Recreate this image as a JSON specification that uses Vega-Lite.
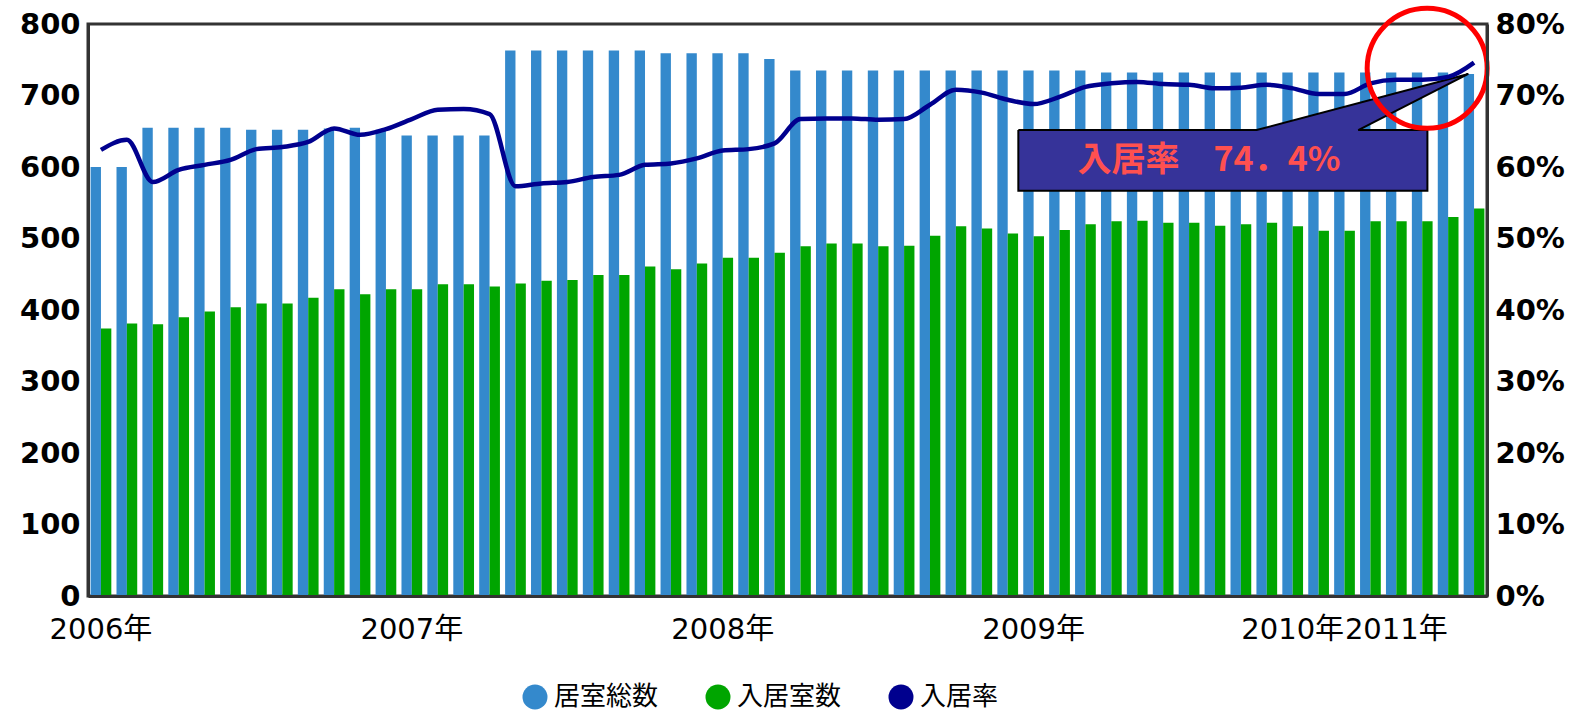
{
  "$schema": "https://vega.github.io/schema/vega-lite/v6.json",
  "width": 1399,
  "height": 572,
  "autosize": {"type": "none"},
  "padding": {"left": 88, "top": 24, "right": 91, "bottom": 118},
  "background": "white",
  "config": {
    "view": {"stroke": "#333333", "strokeWidth": 3},
    "font": "DejaVu Sans"
  },
  "datasets": {
    "monthly": [
      {"n": 0, "居室総数": 600, "入居室数": 374, "入居率": 62.4},
      {"n": 1, "居室総数": 600, "入居室数": 381, "入居率": 63.8},
      {"n": 2, "居室総数": 655, "入居室数": 380, "入居率": 57.9},
      {"n": 3, "居室総数": 655, "入居室数": 390, "入居率": 59.6},
      {"n": 4, "居室総数": 655, "入居室数": 398, "入居率": 60.3},
      {"n": 5, "居室総数": 655, "入居室数": 404, "入居率": 61.0},
      {"n": 6, "居室総数": 652, "入居室数": 409, "入居率": 62.5},
      {"n": 7, "居室総数": 652, "入居室数": 409, "入居率": 62.8},
      {"n": 8, "居室総数": 652, "入居室数": 417, "入居率": 63.5},
      {"n": 9, "居室総数": 654, "入居室数": 429, "入居率": 65.4},
      {"n": 10, "居室総数": 655, "入居室数": 422, "入居率": 64.5},
      {"n": 11, "居室総数": 652, "入居室数": 429, "入居率": 65.3},
      {"n": 12, "居室総数": 644, "入居室数": 429, "入居率": 66.7},
      {"n": 13, "居室総数": 644, "入居室数": 436, "入居率": 68.0},
      {"n": 14, "居室総数": 644, "入居室数": 436, "入居率": 68.1},
      {"n": 15, "居室総数": 644, "入居室数": 433, "入居率": 67.4},
      {"n": 16, "居室総数": 763, "入居室数": 437, "入居率": 57.3},
      {"n": 17, "居室総数": 763, "入居室数": 441, "入居率": 57.7},
      {"n": 18, "居室総数": 763, "入居室数": 442, "入居率": 57.9},
      {"n": 19, "居室総数": 763, "入居室数": 449, "入居率": 58.6},
      {"n": 20, "居室総数": 763, "入居室数": 449, "入居率": 58.9},
      {"n": 21, "居室総数": 763, "入居室数": 461, "入居率": 60.3},
      {"n": 22, "居室総数": 759, "入居室数": 457, "入居率": 60.5},
      {"n": 23, "居室総数": 759, "入居室数": 465, "入居率": 61.2},
      {"n": 24, "居室総数": 759, "入居室数": 473, "入居率": 62.3},
      {"n": 25, "居室総数": 759, "入居室数": 473, "入居率": 62.5},
      {"n": 26, "居室総数": 751, "入居室数": 480, "入居率": 63.3},
      {"n": 27, "居室総数": 735, "入居室数": 489, "入居率": 66.7},
      {"n": 28, "居室総数": 735, "入居室数": 493, "入居率": 66.8},
      {"n": 29, "居室総数": 735, "入居室数": 493, "入居率": 66.8},
      {"n": 30, "居室総数": 735, "入居室数": 489, "入居率": 66.6},
      {"n": 31, "居室総数": 735, "入居室数": 490, "入居率": 66.7},
      {"n": 32, "居室総数": 735, "入居室数": 504, "入居率": 68.7},
      {"n": 33, "居室総数": 735, "入居室数": 517, "入居率": 70.8},
      {"n": 34, "居室総数": 735, "入居室数": 514, "入居率": 70.4},
      {"n": 35, "居室総数": 735, "入居室数": 507, "入居率": 69.4},
      {"n": 36, "居室総数": 735, "入居室数": 503, "入居率": 68.8},
      {"n": 37, "居室総数": 735, "入居室数": 512, "入居率": 69.8},
      {"n": 38, "居室総数": 735, "入居室数": 520, "入居率": 71.2},
      {"n": 39, "居室総数": 732, "入居室数": 524, "入居率": 71.7},
      {"n": 40, "居室総数": 732, "入居室数": 525, "入居率": 71.9},
      {"n": 41, "居室総数": 732, "入居室数": 522, "入居率": 71.6},
      {"n": 42, "居室総数": 732, "入居室数": 522, "入居率": 71.5},
      {"n": 43, "居室総数": 732, "入居室数": 518, "入居率": 71.0},
      {"n": 44, "居室総数": 732, "入居室数": 520, "入居率": 71.1},
      {"n": 45, "居室総数": 732, "入居室数": 522, "入居率": 71.5},
      {"n": 46, "居室総数": 732, "入居室数": 517, "入居率": 71.0},
      {"n": 47, "居室総数": 732, "入居室数": 511, "入居率": 70.2},
      {"n": 48, "居室総数": 732, "入居室数": 511, "入居率": 70.2},
      {"n": 49, "居室総数": 732, "入居室数": 524, "入居率": 71.7},
      {"n": 50, "居室総数": 732, "入居室数": 524, "入居率": 72.2},
      {"n": 51, "居室総数": 732, "入居室数": 524, "入居率": 72.2},
      {"n": 52, "居室総数": 732, "入居室数": 530, "入居率": 72.6},
      {"n": 53, "居室総数": 730, "入居室数": 542, "入居率": 74.6}
    ],
    "callout": [
      {"o": 0, "x": 35.41, "v": 651.7},
      {"o": 1, "x": 44.61, "v": 651.7},
      {"o": 2, "x": 52.78, "v": 730.1},
      {"o": 3, "x": 48.53, "v": 651.7},
      {"o": 4, "x": 51.2, "v": 651.7},
      {"o": 5, "x": 51.2, "v": 566.9},
      {"o": 6, "x": 35.41, "v": 566.9},
      {"o": 7, "x": 35.41, "v": 651.7}
    ],
    "circle": [{"x": 51.19, "v": 738}],
    "note": [{"x": 42.77, "v": 607.7, "label": "入居率　74．4%"}]
  },
  "layer": [
    {
      "data": {"name": "monthly"},
      "transform": [{"fold": ["居室総数", "入居室数"], "as": ["series", "value"]}],
      "mark": {"type": "bar"},
      "encoding": {
        "x": {
          "field": "n", "type": "ordinal",
          "scale": {"paddingInner": 0.2, "paddingOuter": 0.1},
          "axis": {
            "title": null,
            "values": [0, 12, 24, 36, 46, 50],
            "labelExpr": "datum.value == 0 ? '2006年' : datum.value == 12 ? '2007年' : datum.value == 24 ? '2008年' : datum.value == 36 ? '2009年' : datum.value == 46 ? '2010年' : '2011年'",
            "labelAngle": 0,
            "labelOverlap": false,
            "labelFont": "'DejaVu Sans', 'Noto Sans CJK JP'",
            "labelFontSize": 29,
            "labelColor": "black",
            "labelPadding": 19,
            "ticks": false,
            "grid": false,
            "domain": true,
            "domainColor": "#333333",
            "domainWidth": 3,
            "zindex": 1
          }
        },
        "xOffset": {
          "field": "series", "type": "nominal",
          "scale": {"domain": ["居室総数", "入居室数"], "paddingInner": 0, "paddingOuter": 0}
        },
        "y": {
          "field": "value", "type": "quantitative",
          "scale": {"domain": [0, 800], "nice": false},
          "axis": {
            "title": null,
            "orient": "left",
            "values": [0, 100, 200, 300, 400, 500, 600, 700, 800],
            "labelFontSize": 29,
            "labelFontWeight": "bold",
            "labelColor": "black",
            "labelPadding": 8,
            "ticks": false,
            "grid": false,
            "domainColor": "#333333",
            "domainWidth": 3,
            "zindex": 1
          }
        },
        "color": {
          "field": "series", "type": "nominal",
          "scale": {"domain": ["居室総数", "入居室数", "入居率"], "range": ["#3489CC", "#00A500", "#00008E"]},
          "legend": {
            "title": null,
            "orient": "none",
            "direction": "horizontal",
            "legendX": 434,
            "legendY": 660,
            "symbolType": "circle",
            "symbolSize": 625,
            "symbolStrokeWidth": 0,
            "symbolOpacity": 1,
            "labelFont": "Noto Sans CJK JP",
            "labelFontSize": 26,
            "labelColor": "black",
            "labelOffset": 6,
            "columnPadding": 46
          }
        }
      }
    },
    {
      "data": {"name": "callout"},
      "mark": {"type": "line", "fill": "#363399", "stroke": "black", "strokeWidth": 2, "interpolate": "linear"},
      "encoding": {
        "x": {"field": "x", "type": "quantitative", "scale": {"domain": [-0.5, 53.5], "nice": false, "zero": false}, "axis": null},
        "y": {"field": "v", "type": "quantitative", "scale": {"domain": [0, 800], "nice": false}, "axis": null},
        "order": {"field": "o"}
      }
    },
    {
      "data": {"name": "monthly"},
      "mark": {"type": "line", "strokeWidth": 4.5, "interpolate": "monotone"},
      "encoding": {
        "x": {"field": "n", "type": "ordinal", "scale": {"paddingInner": 0.2, "paddingOuter": 0.1}, "axis": null},
        "y": {
          "field": "入居率", "type": "quantitative",
          "scale": {"domain": [0, 80], "nice": false},
          "axis": {
            "title": null,
            "orient": "right",
            "values": [0, 10, 20, 30, 40, 50, 60, 70, 80],
            "labelExpr": "datum.value + '%'",
            "labelFontSize": 29,
            "labelFontWeight": "bold",
            "labelColor": "black",
            "labelPadding": 8,
            "ticks": false,
            "grid": false,
            "domainColor": "#333333",
            "domainWidth": 3,
            "zindex": 1
          }
        },
        "color": {"datum": "入居率"}
      }
    },
    {
      "data": {"name": "note"},
      "mark": {"type": "text", "font": "Noto Sans CJK JP", "fontWeight": "bold", "fontSize": 34, "color": "#FF5050", "align": "center", "baseline": "middle"},
      "encoding": {
        "x": {"field": "x", "type": "quantitative", "scale": {"domain": [-0.5, 53.5], "nice": false, "zero": false}, "axis": null},
        "y": {"field": "v", "type": "quantitative", "scale": {"domain": [0, 800], "nice": false}, "axis": null},
        "text": {"field": "label"}
      }
    },
    {
      "data": {"name": "circle"},
      "mark": {"type": "point", "shape": "circle", "filled": false, "stroke": "#FF0000", "strokeWidth": 5, "size": 14400, "opacity": 1},
      "encoding": {
        "x": {"field": "x", "type": "quantitative", "scale": {"domain": [-0.5, 53.5], "nice": false, "zero": false}, "axis": null},
        "y": {"field": "v", "type": "quantitative", "scale": {"domain": [0, 800], "nice": false}, "axis": null}
      }
    }
  ],
  "resolve": {"scale": {"x": "independent", "y": "independent"}}
}
